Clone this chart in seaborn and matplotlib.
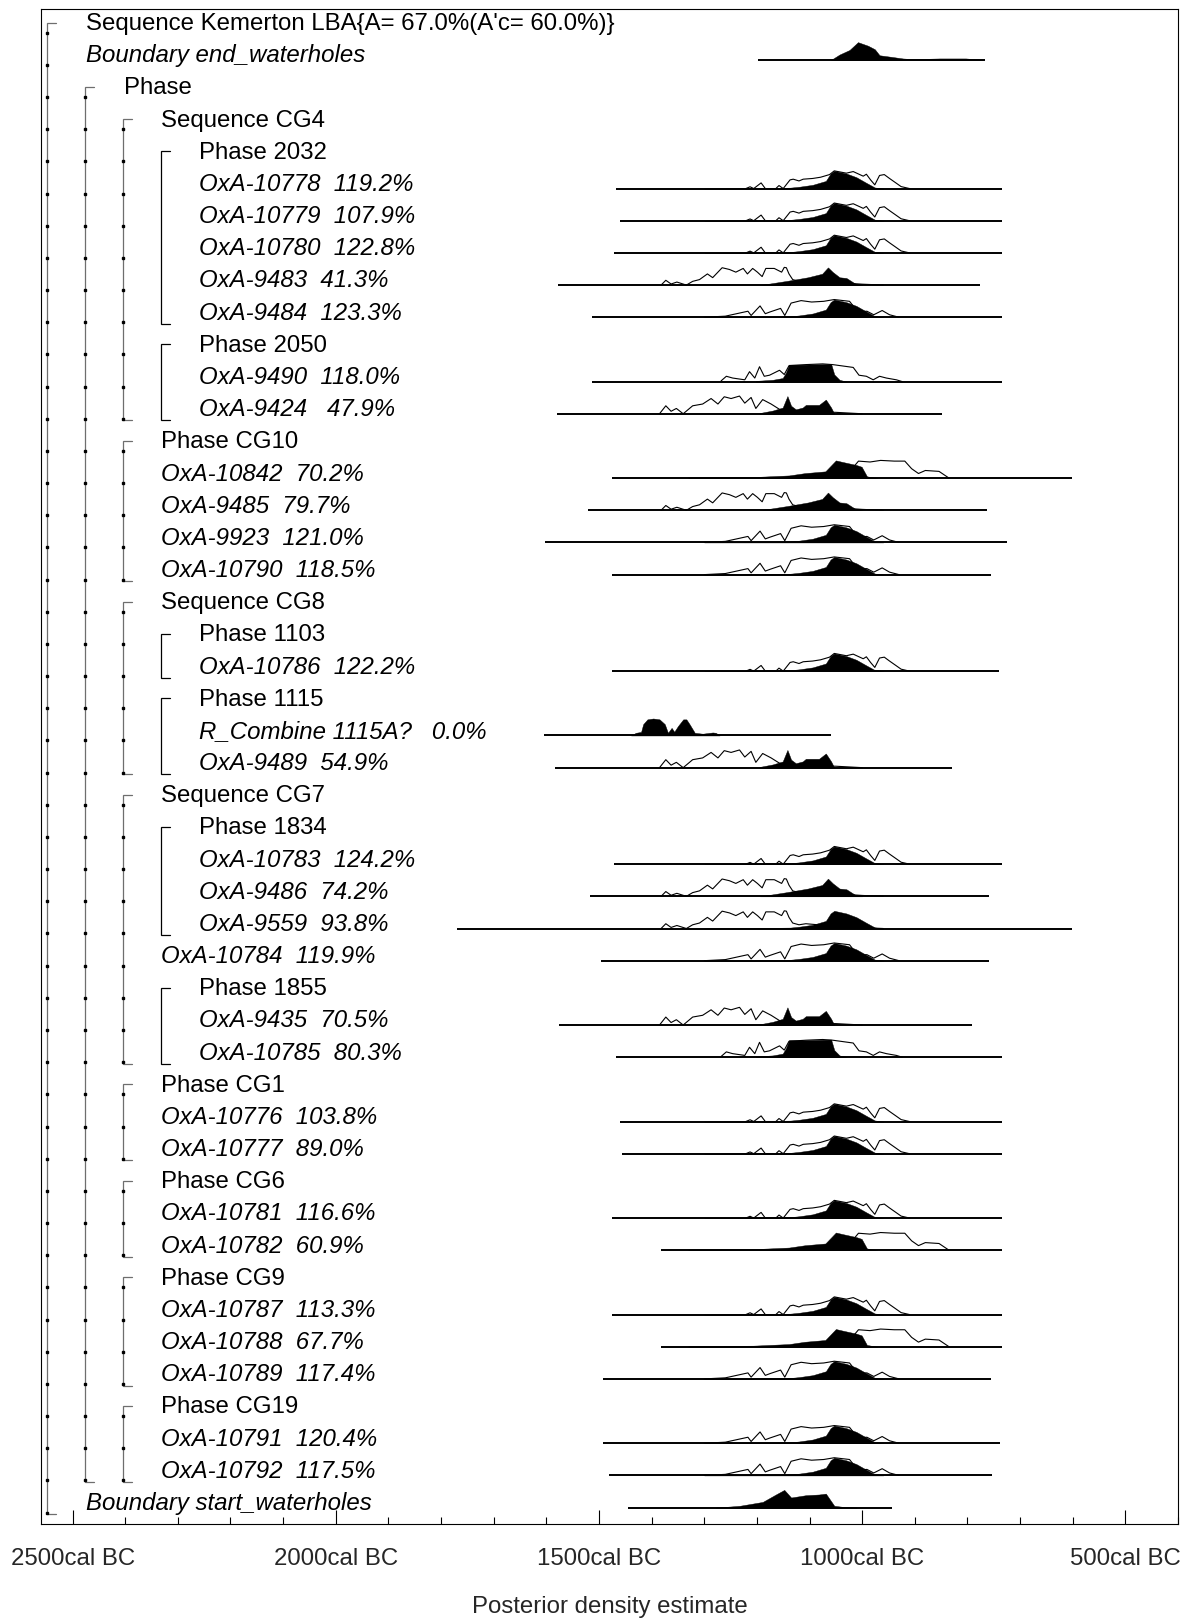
import matplotlib
matplotlib.use("Agg")
import matplotlib.pyplot as plt
import matplotlib.transforms as mtransforms
import pandas as pd
import seaborn as sns

# rows, top to bottom
labels = [
    "Sequence Kemerton LBA{A= 67.0%(A'c= 60.0%)}", "Boundary end_waterholes", "Phase",
    "Sequence CG4", "Phase 2032", "OxA-10778  119.2%", "OxA-10779  107.9%",
    "OxA-10780  122.8%", "OxA-9483  41.3%", "OxA-9484  123.3%", "Phase 2050",
    "OxA-9490  118.0%", "OxA-9424   47.9%", "Phase CG10", "OxA-10842  70.2%",
    "OxA-9485  79.7%", "OxA-9923  121.0%", "OxA-10790  118.5%", "Sequence CG8",
    "Phase 1103", "OxA-10786  122.2%", "Phase 1115", "R_Combine 1115A?   0.0%",
    "OxA-9489  54.9%", "Sequence CG7", "Phase 1834", "OxA-10783  124.2%",
    "OxA-9486  74.2%", "OxA-9559  93.8%", "OxA-10784  119.9%", "Phase 1855",
    "OxA-9435  70.5%", "OxA-10785  80.3%", "Phase CG1", "OxA-10776  103.8%",
    "OxA-10777  89.0%", "Phase CG6", "OxA-10781  116.6%", "OxA-10782  60.9%",
    "Phase CG9", "OxA-10787  113.3%", "OxA-10788  67.7%", "OxA-10789  117.4%",
    "Phase CG19", "OxA-10791  120.4%", "OxA-10792  117.5%", "Boundary start_waterholes",
]
levels = [0, 0, 1, 2, 3, 3, 3, 3, 3, 3, 3, 3, 3, 2, 2, 2, 2, 2, 2, 3, 3, 3, 3, 3,
          2, 3, 3, 3, 3, 2, 3, 3, 3, 2, 2, 2, 2, 2, 2, 2, 2, 2, 2, 2, 2, 2, 0]
italic_rows = [1, 5, 6, 7, 8, 9, 11, 12, 14, 15, 16, 17, 20, 22, 23, 26, 27, 28, 29,
               31, 32, 34, 35, 37, 38, 40, 41, 42, 44, 45, 46]

# brackets: (level, first row, last row); outer groups are drawn dotted
bracket_level = [0, 1, 2, 2, 2, 2, 2, 2, 2, 2, 3, 3, 3, 3, 3, 3]
bracket_first = [0, 2, 3, 13, 18, 24, 33, 36, 39, 43, 4, 10, 19, 21, 25, 30]
bracket_last = [46, 45, 12, 17, 23, 32, 35, 38, 42, 45, 9, 12, 20, 23, 28, 32]

# shapes: (year BC, relative height)
prior_young = [(1221, 0), (1213, .1), (1206, 0), (1192, .32), (1184, 0), (1164, 0),
               (1158, .17), (1150, 0), (1137, .49), (1131, .53), (1120, .43),
               (1112, .53), (1094, .57), (1079, .64), (1062, .79), (1053, 1.0),
               (1030, .87), (1017, .96), (998, .7), (992, .81), (984, .49), (976, .21),
               (967, .74), (958, .79), (948, .57), (936, .32), (926, .11), (910, 0)]
prior_mid = [(1300, 0), (1260, .06), (1217, .34), (1211, .1), (1194, .64), (1184, .2),
             (1175, .3), (1155, .5), (1147, .1), (1135, .8), (1116, .94), (1096, .86),
             (1073, .9), (1053, 1.0), (1024, .9), (1008, .3), (991, .34), (978, .14),
             (962, .38), (948, .14), (930, 0)]
prior_old = [(1382, 0), (1373, .27), (1363, .06), (1352, .17), (1334, 0), (1322, .21),
             (1309, .31), (1294, .63), (1284, .42), (1266, .98), (1252, .88),
             (1240, .73), (1226, .94), (1218, .63), (1208, .94), (1199, .73),
             (1190, .48), (1183, .94), (1167, .94), (1153, .73), (1148, 1.0),
             (1144, .98), (1139, .63), (1132, .31), (1120, .21), (1107, .27),
             (1080, .2), (1050, .15), (1000, .05), (960, 0)]
prior_multi = [(1385, 0), (1373, .45), (1363, .14), (1353, .3), (1340, 0), (1322, .45),
               (1303, .55), (1287, .86), (1274, .55), (1262, .96), (1249, .86),
               (1233, 1.0), (1223, .6), (1211, .92), (1202, .3), (1189, .8),
               (1173, .55), (1157, .25), (1145, .14), (1100, .1), (1050, .08), (1000, 0)]
prior_plateau = [(1268, .04), (1258, .3), (1246, .2), (1223, .1), (1214, .56), (1204, .2),
                 (1195, .84), (1186, .3), (1176, .36), (1157, .64), (1148, .4),
                 (1139, .9), (1107, .96), (1075, 1.0), (1056, .96), (1017, .8),
                 (1006, .36), (992, .3), (979, .1), (967, .3), (954, .2), (935, .1),
                 (924, 0)]
prior_late = [(1150, 0), (1100, .15), (1050, .3), (1020, .5), (1007, .96), (985, .91),
              (965, 1.0), (939, .96), (919, .96), (906, .53), (893, .26), (880, .43),
              (854, .38), (837, .04), (835, 0)]

post_young = [(1300, 0), (1200, .03), (1137, .05), (1120, .1), (1094, .21), (1069, .43),
              (1060, .85), (1053, 1.0), (1030, .85), (1011, .64), (992, .32),
              (976, .06), (960, 0)]
post_old = [(1194, 0), (1142, .24), (1103, .44), (1076, .64), (1065, 1.0), (1056, .74),
            (1043, .44), (1030, .4), (1011, .04), (1000, 0)]
post_multi = [(1195, .04), (1170, .18), (1151, .35), (1142, 1.0), (1135, .45),
              (1126, .25), (1113, .35), (1107, .5), (1082, .5), (1069, .8),
              (1059, .35), (1053, 0)]
post_plateau = [(1202, .04), (1170, .1), (1151, .2), (1145, .5), (1139, .96),
                (1107, .96), (1059, 1.0), (1053, .4), (1043, .1), (1030, 0)]
post_late = [(1330, .04), (1207, .06), (1139, .15), (1109, .28), (1070, .38), (1050, 1.0),
             (1037, .91), (1011, .74), (1001, .64), (991, .1), (972, 0)]
post_combine = [(1439, 0), (1430, .15), (1420, .2), (1416, .64), (1408, .91), (1397, .96),
                (1385, .91), (1375, .64), (1369, .15), (1362, .43), (1357, .21),
                (1350, .53), (1340, .91), (1334, .91), (1328, .64), (1318, .15),
                (1303, .1), (1284, .17), (1278, .15), (1271, 0)]
post_end = [(1059, 0), (1043, .3), (1024, .56), (1008, 1.0), (989, .8), (976, .6),
            (967, .26), (942, .16), (923, .08), (904, .04), (853, .08), (803, .08), (771, 0)]
post_start = [(1278, 0), (1233, .1), (1189, .32), (1164, .74), (1148, 1.0), (1135, .57),
              (1107, .7), (1082, .74), (1069, .79), (1053, .1), (1030, .02), (1011, 0)]

# distributions per row: row, range start/end (BC), prior shape, posterior shape
dist_rows = [1, 5, 6, 7, 8, 9, 11, 12, 14, 15, 16, 17, 20, 22, 23, 26, 27, 28, 29,
             31, 32, 34, 35, 37, 38, 40, 41, 42, 44, 45, 46]
dist_start = [1198, 1468, 1460, 1472, 1578, 1513, 1513, 1580, 1476, 1521, 1603, 1476,
              1476, 1605, 1584, 1472, 1517, 1770, 1496, 1576, 1468, 1460, 1456, 1476,
              1382, 1476, 1382, 1492, 1492, 1480, 1445]
dist_end = [767, 734, 734, 734, 777, 734, 734, 848, 601, 763, 724, 755, 740, 1059, 830,
            734, 759, 601, 759, 791, 734, 734, 734, 734, 734, 734, 734, 755, 738, 753, 943]
dist_prior = [None, "young", "young", "young", "old", "mid", "plateau", "multi", "late",
              "old", "mid", "mid", "young", None, "multi", "young", "old", "old", "mid",
              "multi", "plateau", "young", "young", "young", "late", "young", "late",
              "mid", "mid", "mid", None]
dist_post = ["end", "young", "young", "young", "old", "young", "plateau", "multi", "late",
             "old", "young", "young", "young", "combine", "multi", "young", "old", "young",
             "young", "multi", "plateau", "young", "young", "young", "late", "young",
             "late", "young", "young", "young", "start"]

major_years = [2500, 2000, 1500, 1000, 500]

priors = {"young": prior_young, "mid": prior_mid, "old": prior_old, "multi": prior_multi,
          "plateau": prior_plateau, "late": prior_late}
posts = {"young": post_young, "old": post_old, "multi": post_multi,
         "plateau": post_plateau, "late": post_late, "combine": post_combine,
         "end": post_end, "start": post_start}

sns.set_theme(style="white")
plt.rcParams["font.family"] = ["Liberation Sans", "DejaVu Sans"]

fig = plt.figure(figsize=(11.89, 16.18), dpi=100)
ax = fig.add_axes([41 / 1189, 1 - 1524 / 1618, 1137 / 1189, 1515 / 1618])

BASE = 0.155   # baseline offset below row centre (rows)
HEIGHT = 0.55  # full height of a normalised curve (rows)

prior_frames = []
for i, r in enumerate(dist_rows):
    base = r + BASE
    ax.hlines(base, -dist_start[i], -dist_end[i], color="black", lw=1.4, zorder=2)
    post = posts[dist_post[i]]
    xs = [-p[0] for p in post]
    ys = [base - p[1] * HEIGHT for p in post]
    ax.fill_between(xs, base, ys, color="black", lw=0.3, zorder=3)
    if dist_prior[i]:
        pr = priors[dist_prior[i]]
        prior_frames.append(pd.DataFrame({
            "x": [-p[0] for p in pr],
            "y": [base - p[1] * HEIGHT for p in pr],
            "row": r,
        }))

prior_df = pd.concat(prior_frames, ignore_index=True)
sns.lineplot(data=prior_df, x="x", y="y", units="row", estimator=None, sort=False,
             color="black", lw=0.8, ax=ax, zorder=4)

# labels and brackets
trans = mtransforms.blended_transform_factory(ax.transAxes, ax.transData)
for r, (lab, lev) in enumerate(zip(labels, levels)):
    px = 86 + 37.7 * lev
    ax.text((px - 41) / 1137, r + 0.23, lab, transform=trans, fontsize=17.3,
            style="italic" if r in italic_rows else "normal", va="baseline", ha="left",
            color="black")

for lev, r0, r1 in zip(bracket_level, bracket_first, bracket_last):
    bx = (47 + 38 * lev - 41) / 1137
    tick = 9 / 1137
    col = "#6e6e6e" if lev < 3 else "black"
    y1 = r1 + 0.36
    ax.plot([bx + tick, bx, bx, bx + tick], [r0, r0, y1, y1], transform=trans,
            color=col, lw=0.9, solid_joinstyle="miter")
    if lev < 3:
        rows = list(range(r0, r1 + 1))
        ax.plot([bx] * len(rows), [rr + 0.31 for rr in rows], transform=trans,
                ls="none", marker="s", ms=1.6, color="black")

ax.set_xlim(-2560, -401)
ax.set_ylim(46.665, -0.426)
ax.set_yticks([])
ax.set_xticks([-y for y in major_years])
ax.set_xticklabels([f"{y}cal BC" for y in major_years], fontsize=17.3)
ax.set_xticks([-y for y in range(2500, 399, -100)], minor=True)
ax.tick_params(axis="x", which="both", direction="in", bottom=True, top=False,
               color="black", width=0.8)
ax.tick_params(axis="x", which="major", length=10, pad=17)
ax.tick_params(axis="x", which="minor", length=5)
ax.set_xlabel("Posterior density estimate", fontsize=17.3, labelpad=19)
ax.set_ylabel("")
for s in ax.spines.values():
    s.set_visible(True)
    s.set_color("black")
    s.set_linewidth(0.8)

fig.savefig("out.png", dpi=100)
